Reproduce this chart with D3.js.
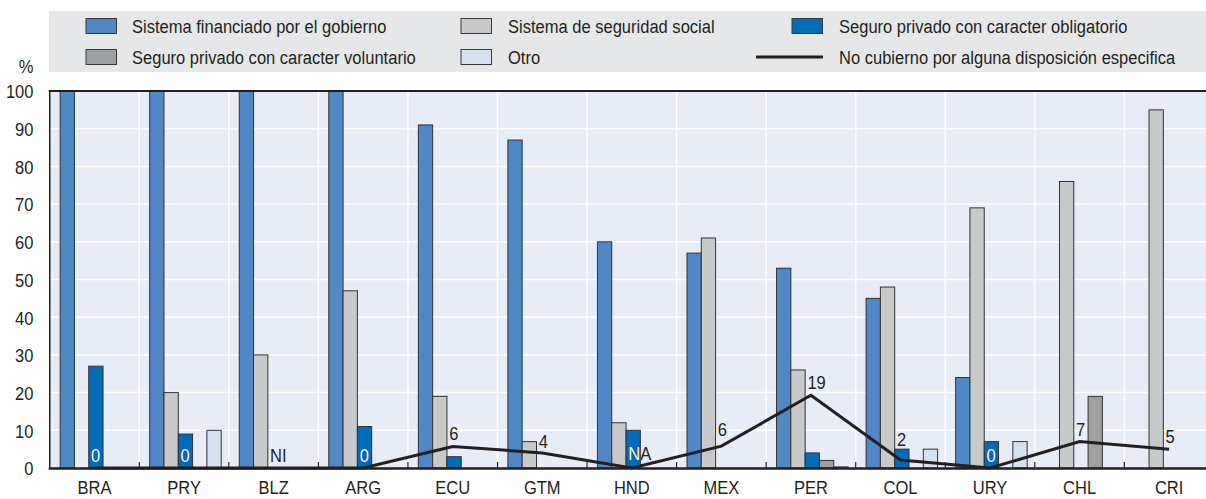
<!DOCTYPE html>
<html>
<head>
<meta charset="utf-8">
<script src="https://cdn.jsdelivr.net/npm/d3@7"></script>
<style>
  html, body { margin: 0; padding: 0; background: #fff; }
  svg { display: block; }
  text { font-family: "Liberation Sans", Arial, sans-serif; fill: #231F20; }
</style>
</head>
<body>
<svg id="chart" width="1206" height="499"></svg>
<script>
const categories = ["BRA","PRY","BLZ","ARG","ECU","GTM","HND","MEX","PER","COL","URY","CHL","CRI"];
const gobierno = [100,100,100,100,91,87,60,57,53,45,24,0,0];
const seguridadSocial = [0,20,30,47,19,7,12,61,26,48,69,76,95];
const privadoObligatorio = [27,9,0,11,3,0,10,0,4,5,7,0,0];
const privadoVoluntario = [0,0,0,0,0,0,0,0,2,0,0,19,0];
const otro = [0,10,0,0,0,0,0,0,0.3,5,7,0,0];
const noCubierto = [0,0,0,0,5.7,4,0,5.8,19.3,2.1,0,7,5];
const noCubiertoLabels = ["0","0","NI","0","6","4","NA","6","19","2","0","7","5"];
const yTicks = [0,10,20,30,40,50,60,70,80,90,100];

const seriesNames = [
  "Sistema financiado por el gobierno",
  "Sistema de seguridad social",
  "Seguro privado con caracter obligatorio",
  "Seguro privado con caracter voluntario",
  "Otro"
];
const lineName = "No cubierno por alguna disposición especifica";
const seriesValues = [gobierno, seguridadSocial, privadoObligatorio, privadoVoluntario, otro];
const colors = ["#4F87C7", "#C8C9CB", "#006BB6", "#9FA0A2", "#D6E1F2"];
const dark = "#231F20";
const FS = 19;
const NARROW = 0.87;

const svg = d3.select("#chart");

// Layout
const plotLeft = 49.75, plotRight = 1213.9, plotTop = 91, plotBottom = 468;

const x0 = d3.scaleBand().domain(categories).range([plotLeft, plotRight]).padding(0);
const step = x0.step();
const x1 = d3.scaleBand().domain(d3.range(seriesNames.length)).range([step * 0.116, step * 0.116 + 71.5]).padding(0);
const y = d3.scaleLinear().domain([0, 100]).range([plotBottom, plotTop]);

// Legend
svg.append("rect").attr("x", 49).attr("y", 11).attr("width", 1160).attr("height", 61).attr("fill", "#E6E7E8");
const legendItems = [
  {name: seriesNames[0], type: "rect", color: colors[0], sx: 86, tx: 132, cy: 26},
  {name: seriesNames[1], type: "rect", color: colors[1], sx: 461, tx: 508, cy: 26},
  {name: seriesNames[2], type: "rect", color: colors[2], sx: 792, tx: 839, cy: 26},
  {name: seriesNames[3], type: "rect", color: colors[3], sx: 86, tx: 132, cy: 57},
  {name: seriesNames[4], type: "rect", color: colors[4], sx: 461, tx: 508, cy: 57},
  {name: lineName, type: "line", sx: 756, tx: 839, cy: 57}
];
const lg = svg.append("g");
legendItems.forEach(it => {
  if (it.type === "rect") {
    lg.append("rect").attr("x", it.sx).attr("y", it.cy - 7.5).attr("width", 30.5).attr("height", 15)
      .attr("fill", it.color).attr("stroke", "#3a3a3a").attr("stroke-width", 1);
  } else {
    lg.append("line").attr("x1", it.sx).attr("x2", it.sx + 67).attr("y1", it.cy).attr("y2", it.cy)
      .attr("stroke", dark).attr("stroke-width", 3);
  }
  lg.append("text").attr("x", it.tx).attr("y", it.cy).attr("dy", "0.35em")
    .attr("font-size", FS).text(it.name);
});

// Plot background
svg.append("rect").attr("x", plotLeft).attr("y", plotTop).attr("width", plotRight - plotLeft)
  .attr("height", plotBottom - plotTop).attr("fill", "#E8ECF7");

// Horizontal gridlines
svg.append("g").selectAll("line").data(yTicks.filter(t => t > 0 && t < 100)).join("line")
  .attr("x1", plotLeft).attr("x2", plotRight).attr("y1", d => y(d)).attr("y2", d => y(d))
  .attr("stroke", "#fff").attr("stroke-width", 1.5);

// Vertical gridlines at band boundaries
svg.append("g").selectAll("line").data(categories.slice(1)).join("line")
  .attr("x1", d => x0(d)).attr("x2", d => x0(d)).attr("y1", plotTop).attr("y2", plotBottom)
  .attr("stroke", "#fff").attr("stroke-width", 1.5);

// Bars
const barData = [];
categories.forEach((c, i) => {
  seriesValues.forEach((vals, s) => {
    if (vals[i] > 0) barData.push({c, s, v: vals[i]});
  });
});
svg.append("g").selectAll("rect").data(barData).join("rect")
  .attr("x", d => x0(d.c) + x1(d.s))
  .attr("y", d => y(d.v))
  .attr("width", x1.bandwidth())
  .attr("height", d => y(0) - y(d.v))
  .attr("fill", d => colors[d.s])
  .attr("stroke", "#333")
  .attr("stroke-width", 1);

// Clip path of dark blue bars (for white labels)
const defs = svg.append("defs");
const clip = defs.append("clipPath").attr("id", "obligClip");
clip.selectAll("rect").data(barData.filter(d => d.s === 2)).join("rect")
  .attr("x", d => x0(d.c) + x1(d.s))
  .attr("y", d => y(d.v))
  .attr("width", x1.bandwidth())
  .attr("height", d => y(0) - y(d.v));

// Inner bottom ticks at band boundaries
svg.append("g").selectAll("line").data(categories.slice(1)).join("line")
  .attr("x1", d => x0(d)).attr("x2", d => x0(d)).attr("y1", plotBottom - 6).attr("y2", plotBottom)
  .attr("stroke", dark).attr("stroke-width", 1.2);

// Line series
const lineGen = d3.line()
  .x((d, i) => x0(categories[i]) + step / 2)
  .y(d => y(d));
svg.append("path").datum(noCubierto).attr("d", lineGen)
  .attr("fill", "none").attr("stroke", dark).attr("stroke-width", 3).attr("stroke-linejoin", "miter");

// Line labels
const labelLift = {MEX: 10, COL: 14.5, HND: 8, GTM: 5};
const labelData = categories.map((c, i) => ({c, v: noCubierto[i], t: noCubiertoLabels[i]}));
const lx = d => x0(d.c) + step / 2 - 3.5;
const ly = d => y(d.v) - (labelLift[d.c] !== undefined ? labelLift[d.c] : 6);
svg.append("g").selectAll("text").data(labelData).join("text")
  .attr("x", lx).attr("y", ly).attr("font-size", FS).text(d => d.t);
svg.append("g").attr("clip-path", "url(#obligClip)").selectAll("text").data(labelData).join("text")
  .attr("x", lx).attr("y", ly).attr("font-size", FS).style("fill", "#fff").text(d => d.t);

// Frame: top, left
svg.append("line").attr("x1", plotLeft - 1).attr("x2", plotRight).attr("y1", plotTop).attr("y2", plotTop)
  .attr("stroke", dark).attr("stroke-width", 2);
svg.append("line").attr("x1", plotLeft).attr("x2", plotLeft).attr("y1", plotTop).attr("y2", plotBottom)
  .attr("stroke", dark).attr("stroke-width", 1.5);

// Y axis labels
const yAxis = d3.axisLeft(y).tickValues(yTicks).tickSize(0).tickPadding(0);
const yg = svg.append("g").attr("transform", `translate(${33.5},0)`).call(yAxis);
yg.select(".domain").remove();
yg.selectAll("text").attr("font-size", FS).attr("font-family", null).style("fill", dark).attr("dy", "0.36em");

svg.append("text").attr("x", 33.5).attr("y", 73).attr("text-anchor", "end").attr("font-size", FS).text("%");

// X axis
const xAxis = d3.axisBottom(x0).tickSize(0).tickPadding(0);
const xg = svg.append("g").attr("transform", `translate(0,${plotBottom})`).call(xAxis);
xg.select(".domain").remove();
xg.selectAll("text").attr("font-size", FS).attr("font-family", null).style("fill", dark).attr("dy", null).attr("y", 26);

svg.append("line").attr("x1", plotLeft - 1).attr("x2", plotRight).attr("y1", plotBottom + 0.5).attr("y2", plotBottom + 0.5)
  .attr("stroke", dark).attr("stroke-width", 2.5);

// Condense all text horizontally around its anchor (Arial-Narrow-like widths)
svg.selectAll("text").each(function() {
  const ax = +(this.getAttribute("x") || 0);
  d3.select(this).attr("transform", `translate(${ax},0) scale(${NARROW},1) translate(${-ax},0)`);
});
</script>
</body>
</html>
